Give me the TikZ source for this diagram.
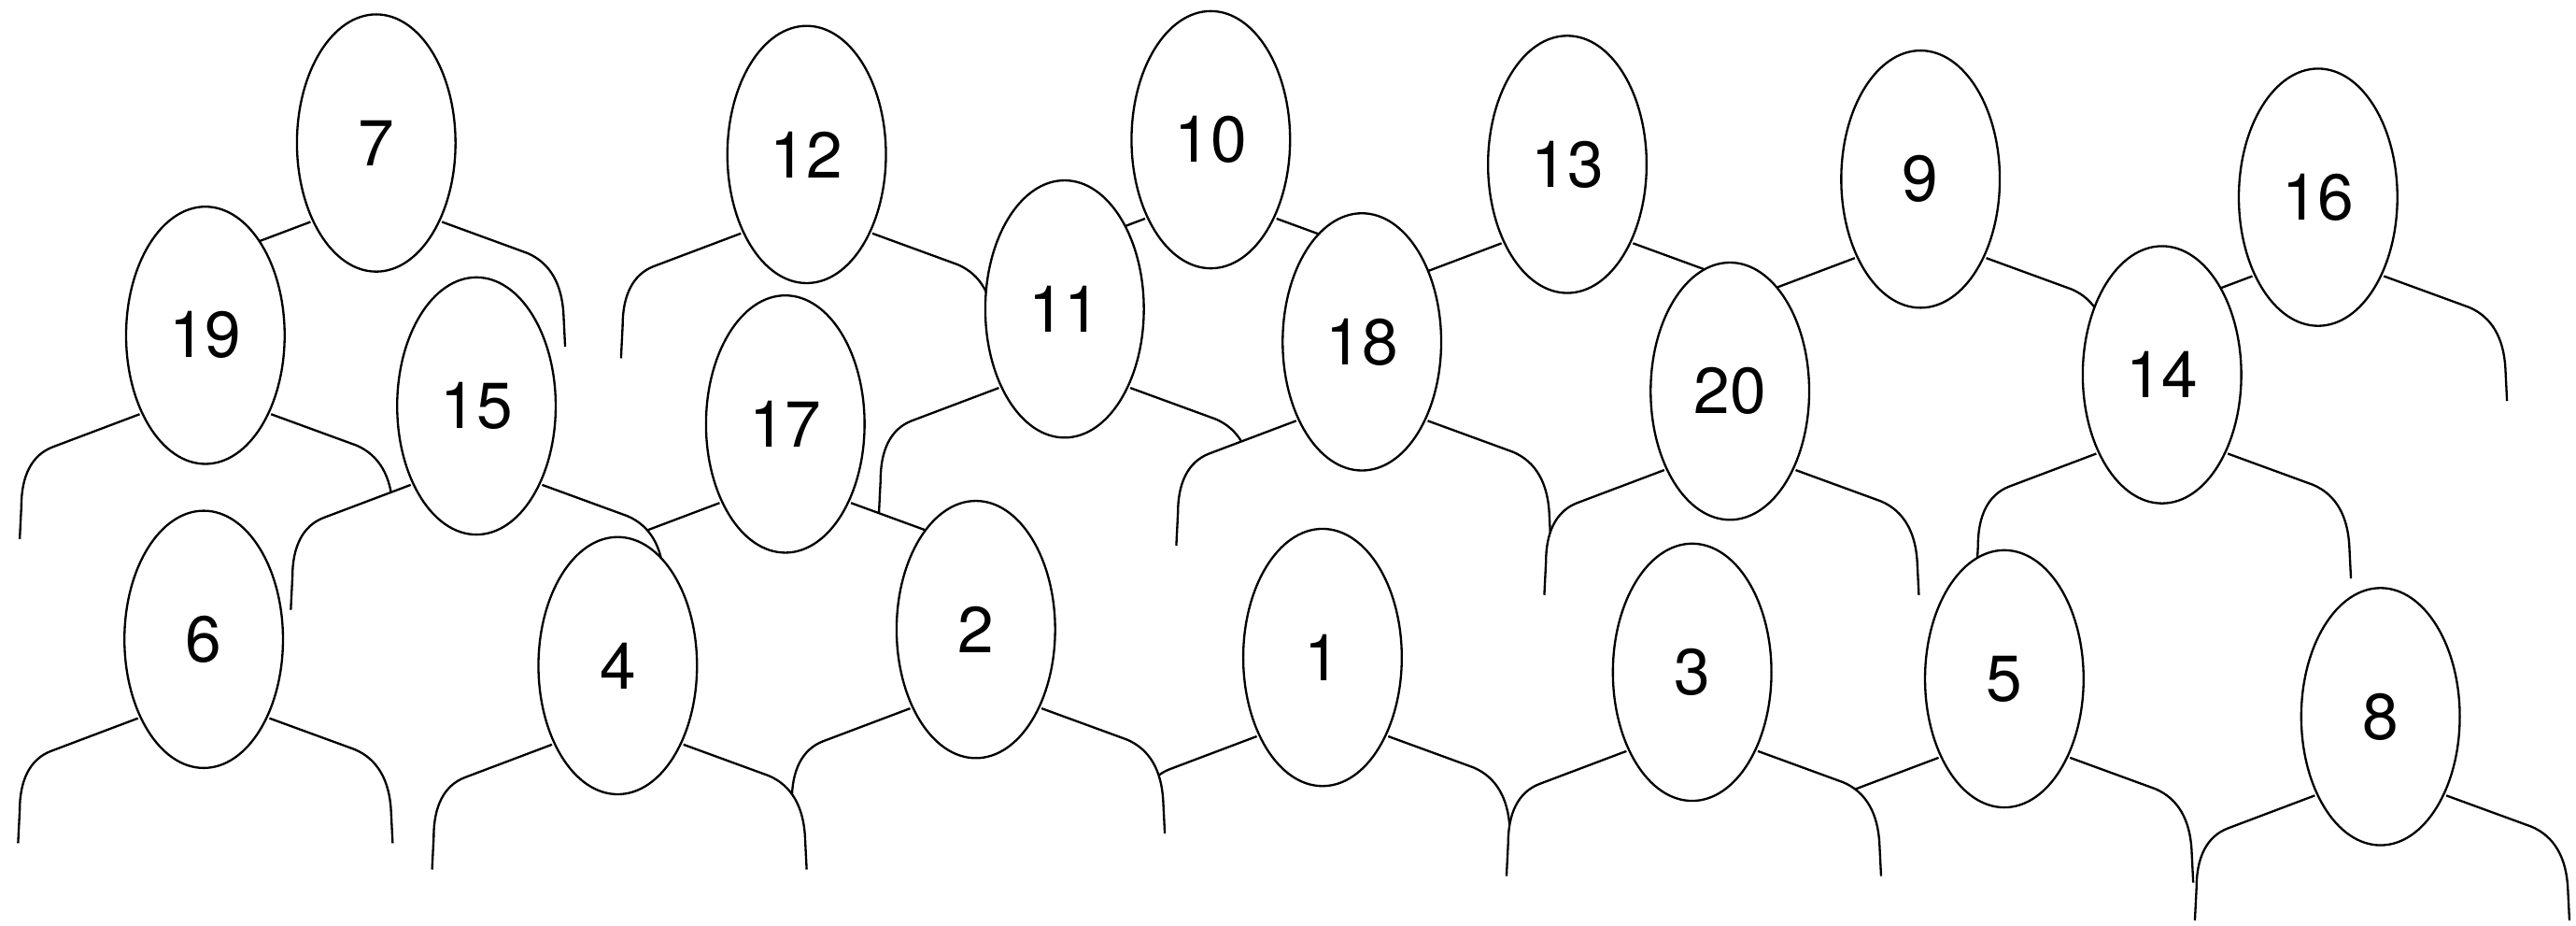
\documentclass[tikz,border=0pt]{standalone}
\usepackage{fontspec}
\setmainfont{TeX Gyre Heros}
\usetikzlibrary{shapes.geometric}
\begin{document}
\begin{tikzpicture}[x=0.2mm,y=-0.2mm]
    \tikzstyle{head}=[ellipse,draw=black,fill=white,line width=0.75pt,minimum width=1.93cm,minimum height=3.13cm,inner sep=0pt,font=\fontsize{22.5}{24}\selectfont]
    \tikzstyle{shoulder}=[draw=black,line width=0.75pt]
    \useasboundingbox (0,0) rectangle (1568,563);
    % back to front
    \foreach \n/\x/\y in {10/737/85,7/229/87,12/491/94,13/954/100,9/1169/109,16/1411/120,
      11/648/188,19/125/204,18/829/208,20/1053/238,14/1316/228,17/478/258,15/290/247,
      1/805/400,2/594/383,4/376/405,6/124/389,5/1220/413,3/1030/409,8/1449/436}{
      \begin{scope}[shift={(\x,\y)}]
        \fill[white] (-40,48) -- (-93,68) .. controls (-106,73) and (-112,86) .. (-112,104) -- (-113,180)
          -- (115,180) -- (114,104) .. controls (113,86) and (106,73) .. (92,67) -- (40,48) -- cycle;
        \draw[shoulder] (-40,48) -- (-93,68) .. controls (-106,73) and (-112,86) .. (-112,104) -- (-113,124);
        \draw[shoulder] (40,48) -- (92,67) .. controls (106,73) and (113,86) .. (114,104) -- (115,124);
        \node[head] (p\n) at (0,0) {\n};
      \end{scope}
    }
\end{tikzpicture}
\end{document}
